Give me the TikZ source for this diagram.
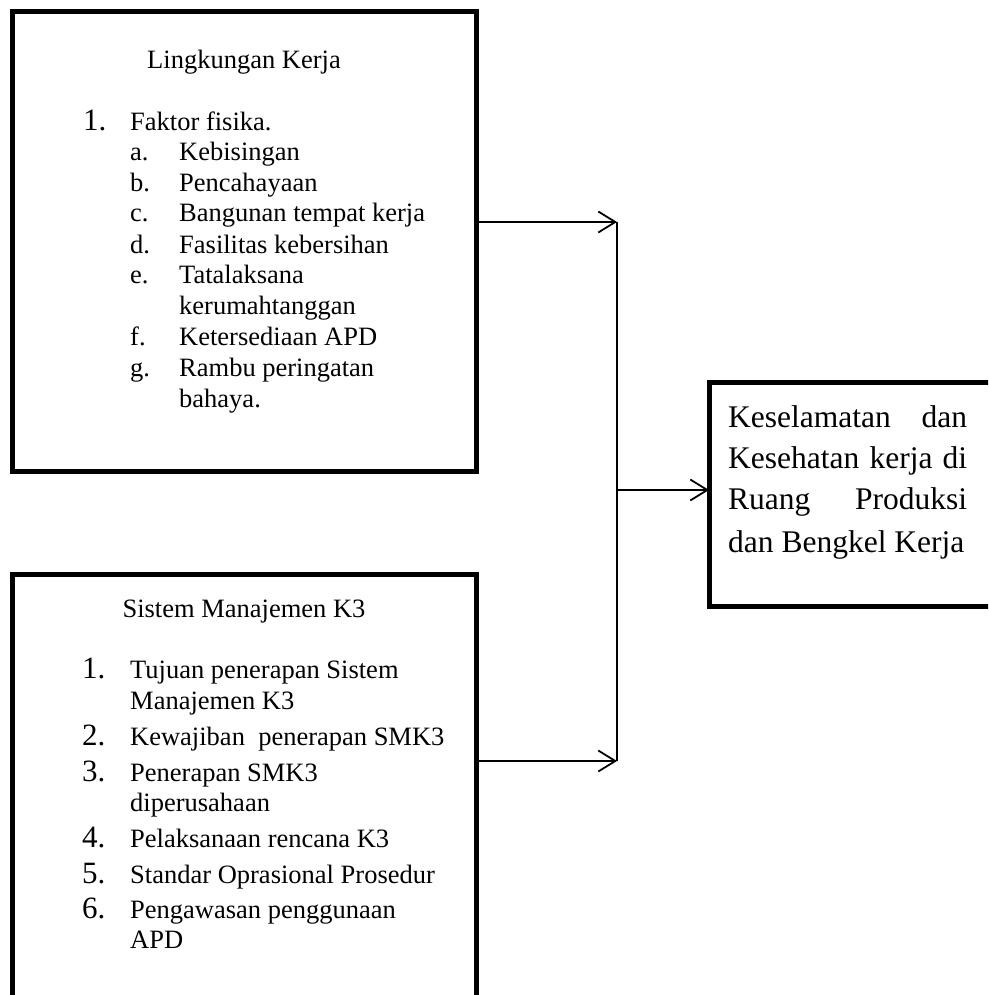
\documentclass[tikz,border=0pt]{standalone}
\usepackage{fontspec}
\setmainfont{Liberation Serif}
\usetikzlibrary{arrows.meta}
\tikzset{
  boxline/.style={draw=black, line width=5pt, line join=miter, inner sep=0pt, outer sep=0pt},
  conn/.style={draw=black, line width=1.8pt},
  arr/.style={conn, -{Straight Barb[length=17pt,width=21pt]}},
  txt/.style={anchor=base west, inner sep=0pt, font=\fontsize{26.5}{30}\selectfont},
  num/.style={anchor=base west, inner sep=0pt, font=\fontsize{31}{34}\selectfont},
  big/.style={anchor=base west, inner sep=0pt, font=\fontsize{31.5}{36}\selectfont},
  ttl/.style={anchor=base, inner sep=0pt, font=\fontsize{26.5}{30}\selectfont},
}
\begin{document}
\begin{tikzpicture}[x=1pt,y=-1pt]
\useasboundingbox (0,0) rectangle (988,995);
\clip (0,0) rectangle (988,995);
% boxes
\node[boxline, minimum width=464pt, minimum height=459pt] (b1) at (244,241.5) {};
\node[boxline, minimum width=464pt, minimum height=526pt] (b2) at (244,837) {};
\node[boxline, minimum width=391pt, minimum height=224pt] (b3) at (904.5,494) {};
% box 1 text
\node[ttl] (t1) at (244,69) {Lingkungan Kerja};
\node[num] (n11) at (83,131) {1.};
\node[txt] (i11) at (130,131) {Faktor fisika.};
\node[txt] (la) at (130,161) {a.};
\node[txt] (ia) at (179,161) {Kebisingan};
\node[txt] (lb) at (130,192) {b.};
\node[txt] (ib) at (179,192) {Pencahayaan};
\node[txt] (lc) at (130,222) {c.};
\node[txt] (ic) at (179,222) {Bangunan tempat kerja};
\node[txt] (ld) at (130,253) {d.};
\node[txt] (id) at (179,253) {Fasilitas kebersihan};
\node[txt] (le) at (130,283) {e.};
\node[txt] (ie) at (179,283) {Tatalaksana};
\node[txt] (ie2) at (179,314) {kerumahtanggan};
\node[txt] (lf) at (130,345) {f.};
\node[txt] (if) at (179,345) {Ketersediaan APD};
\node[txt] (lg) at (130,376) {g.};
\node[txt] (ig) at (179,376) {Rambu peringatan};
\node[txt] (ig2) at (179,407) {bahaya.};
% box 2 text
\node[ttl] (t2) at (244,617) {Sistem Manajemen K3};
\node[num] (n21) at (82,678) {1.};
\node[txt] (j21) at (130,678) {Tujuan penerapan Sistem};
\node[txt] (j21b) at (130,709) {Manajemen K3};
\node[num] (n22) at (82,745) {2.};
\node[txt] (j22) at (130,745) {Kewajiban\ \ penerapan SMK3};
\node[num] (n23) at (82,781) {3.};
\node[txt] (j23) at (130,781) {Penerapan SMK3};
\node[txt] (j23b) at (130,811) {diperusahaan};
\node[num] (n24) at (82,847) {4.};
\node[txt] (j24) at (130,847) {Pelaksanaan rencana K3};
\node[num] (n25) at (82,883) {5.};
\node[txt] (j25) at (130,883) {Standar Oprasional Prosedur};
\node[num] (n26) at (82,918) {6.};
\node[txt] (j26) at (130,918) {Pengawasan penggunaan};
\node[txt] (j26b) at (130,948) {APD};
% box 3 text
\node[big] (k1) at (728,427) {\makebox[239pt][s]{Keselamatan dan}};
\node[big] (k2) at (728,468) {\makebox[239pt][s]{Kesehatan kerja di}};
\node[big] (k3) at (728,509) {\makebox[239pt][s]{Ruang Produksi}};
\node[big] (k4) at (728,552) {dan Bengkel Kerja};
% connectors
\coordinate (ja) at (617,222);
\coordinate (jb) at (617,761);
\coordinate (jm) at (617,490);
\draw[arr] (b1.east |- ja) -- (ja);
\draw[arr] (b2.east |- jb) -- (jb);
\draw[conn] (ja) -- (jb);
\draw[arr] (jm) -- (b3.west |- jm);
\end{tikzpicture}
\end{document}
